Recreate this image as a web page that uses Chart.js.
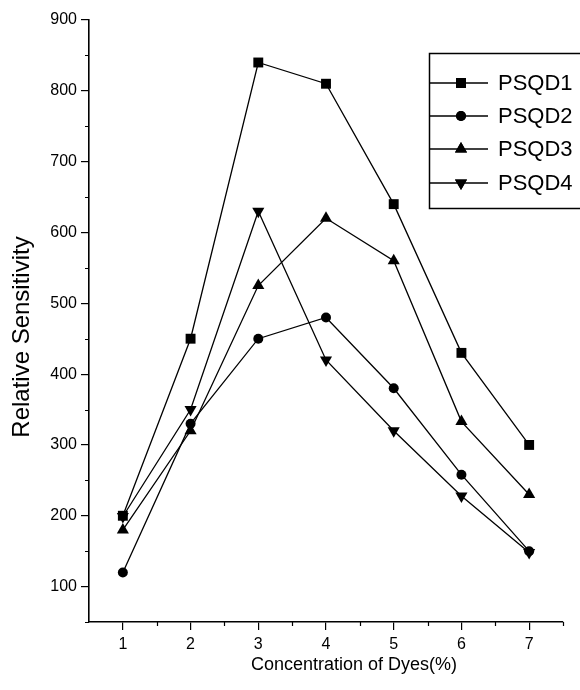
<!DOCTYPE html>
<html>
<head>
<meta charset="utf-8">
<script src="https://cdn.jsdelivr.net/npm/chart.js@4"></script>
<style>
html,body{margin:0;padding:0;background:#fff;}
#wrap{width:580px;height:690px;}
</style>
</head>
<body>
<div id="wrap"><canvas id="c" width="580" height="690"></canvas></div>
<script>
const concentrations = [1, 2, 3, 4, 5, 6, 7];
const psqd1 = [200, 450, 840, 810, 640, 430, 300];
const psqd2 = [120, 330, 450, 480, 380, 258, 150];
const psqd3 = [180, 320, 525, 620, 560, 333, 230];
const psqd4 = [199, 350, 630, 420, 320, 228, 148];
const seriesNames = ['PSQD1', 'PSQD2', 'PSQD3', 'PSQD4'];
const yTicks = [100, 200, 300, 400, 500, 600, 700, 800, 900];
const xTicks = [1, 2, 3, 4, 5, 6, 7];
const xTitle = 'Concentration of Dyes(%)';
const yTitle = 'Relative Sensitivity';

const FONT = '"Liberation Sans", Arial, Helvetica, sans-serif';

function pts(vals){ return concentrations.map((x,i)=>({x:x, y:vals[i]})); }

const styles = [
  {pointStyle:'rect', pointRadius:7, rotation:0},
  {pointStyle:'circle', pointRadius:5, rotation:0},
  {pointStyle:'triangle', pointRadius:7, rotation:0},
  {pointStyle:'triangle', pointRadius:7, rotation:180}
];
const allVals = [psqd1, psqd2, psqd3, psqd4];

const datasets = allVals.map((v,i)=>({
  label: seriesNames[i],
  data: pts(v),
  borderColor:'#000',
  backgroundColor:'#000',
  borderWidth:1.3,
  pointStyle: styles[i].pointStyle,
  pointRadius: styles[i].pointRadius,
  pointRotation: styles[i].rotation,
  pointBackgroundColor:'#000',
  pointBorderColor:'#000',
  pointBorderWidth:0,
  tension:0,
  clip:false
}));

const extras = {
  id:'extras',
  afterDraw(chart){
    const ctx = chart.ctx;
    const xs = chart.scales.x, ys = chart.scales.y;
    const ca = chart.chartArea;
    ctx.save();
    ctx.strokeStyle = '#000';
    ctx.lineWidth = 1.2;
    // minor ticks
    ctx.beginPath();
    for (let v = 50; v <= 900; v += 100) {
      const py = Math.round(ys.getPixelForValue(v)) + 0.5;
      ctx.moveTo(ca.left - 4, py); ctx.lineTo(ca.left, py);
    }
    for (let v = 1.5; v <= 7.5; v += 1) {
      const px = Math.round(xs.getPixelForValue(v)) + 0.5;
      ctx.moveTo(px, ca.bottom); ctx.lineTo(px, ca.bottom + 4);
    }
    ctx.stroke();
    // axis titles
    ctx.fillStyle = '#000';
    ctx.font = '18px ' + FONT;
    ctx.textAlign = 'center';
    ctx.textBaseline = 'middle';
    ctx.fillText(xTitle, 354, 665);
    ctx.save();
    ctx.translate(22, 337);
    ctx.rotate(-Math.PI/2);
    ctx.font = '24px ' + FONT;
    ctx.fillText(yTitle, 0, 0);
    ctx.restore();
    // legend
    const bx = 429, by = 53, bw = 200, bh = 155;
    ctx.lineWidth = 1.5;
    ctx.strokeRect(bx + 0.5, by + 0.5, bw, bh);
    const rows = [83, 116, 149, 183];
    chart.data.datasets.forEach((ds, i) => {
      const yy = rows[i];
      ctx.lineWidth = 1.3;
      ctx.beginPath();
      ctx.moveTo(bx, yy); ctx.lineTo(488, yy);
      ctx.stroke();
      Chart.helpers.drawPoint(ctx, {
        pointStyle: ds.pointStyle, rotation: ds.pointRotation,
        radius: ds.pointRadius, borderWidth: 0
      }, 461, yy);
      ctx.fillStyle = '#000';
      ctx.fill();
      ctx.font = '22px ' + FONT;
      ctx.textAlign = 'left';
      ctx.textBaseline = 'middle';
      ctx.fillText(ds.label, 498, yy + 1);
    });
    ctx.restore();
  }
};

new Chart(document.getElementById('c'), {
  type:'line',
  data:{datasets},
  options:{
    responsive:false,
    animation:false,
    devicePixelRatio:1,
    layout:{padding:{top:20, right:17, left:0, bottom:0}},
    plugins:{legend:{display:false}, tooltip:{enabled:false}},
    scales:{
      x:{
        type:'linear', min:0.5, max:7.5,
        afterBuildTicks(s){ s.ticks = xTicks.map(v=>({value:v})); },
        afterFit(s){ s.height = 68; },
        grid:{drawOnChartArea:false, tickLength:8, color:'#000', lineWidth:1.2},
        border:{display:true, color:'#000', width:1.6},
        ticks:{color:'#000', font:{family:FONT, size:16}, padding:5, maxRotation:0, autoSkip:false},
        title:{display:false}
      },
      y:{
        type:'linear', min:50, max:900,
        afterBuildTicks(s){ s.ticks = yTicks.map(v=>({value:v})); },
        afterFit(s){ s.width = 89; },
        grid:{drawOnChartArea:false, tickLength:8, color:'#000', lineWidth:1.2},
        border:{display:true, color:'#000', width:1.6},
        ticks:{color:'#000', font:{family:FONT, size:16}, padding:4, autoSkip:false},
        title:{display:false}
      }
    }
  },
  plugins:[extras]
});
</script>
</body>
</html>
